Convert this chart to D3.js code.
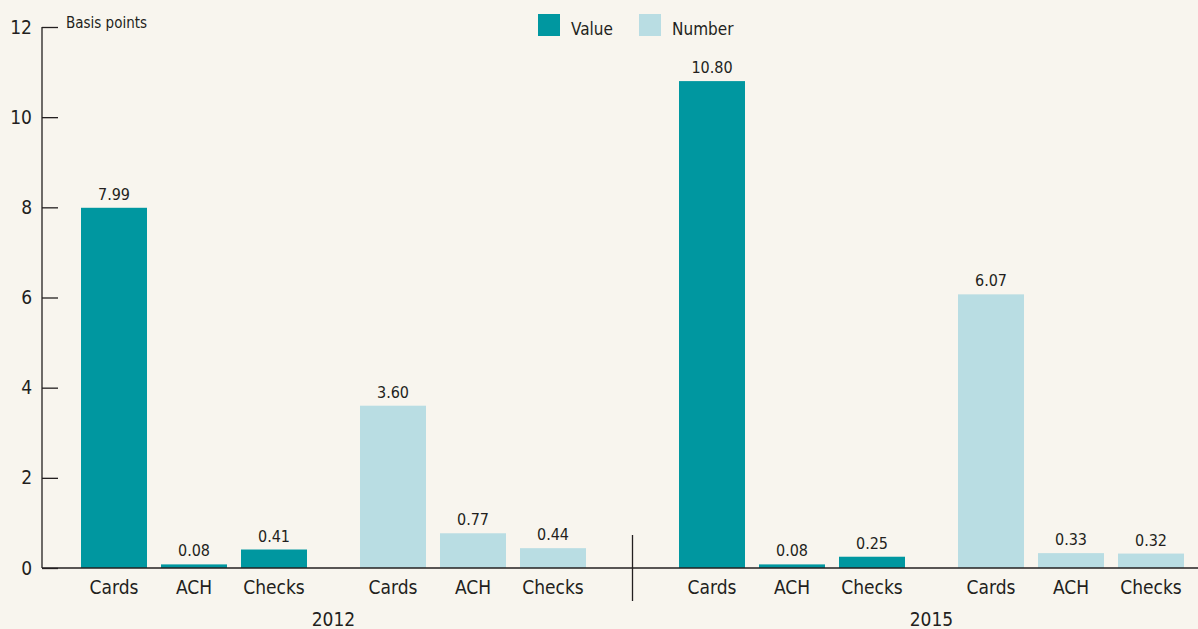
<!DOCTYPE html>
<html>
<head>
<meta charset="utf-8">
<script src="https://cdn.jsdelivr.net/npm/d3@7"></script>
<style>
  body { margin: 0; background: #f8f5ee; }
  svg { display: block; font-family: "Liberation Sans Narrow", "DejaVu Sans Condensed", sans-serif; fill: #231f20; }
</style>
</head>
<body>
<svg id="chart" width="1198" height="629"></svg>
<script>
const years = ["2012", "2015"];
const groups = ["Value", "Number"];
const categories = ["Cards", "ACH", "Checks"];
// values[year][group][category]
const values2012Value = [7.99, 0.08, 0.41];
const values2012Number = [3.60, 0.77, 0.44];
const values2015Value = [10.80, 0.08, 0.25];
const values2015Number = [6.07, 0.33, 0.32];
const yTicks = [0, 2, 4, 6, 8, 10, 12];

const colors = { Value: "#0097a0", Number: "#b9dde3" };

const svg = d3.select("#chart");
const ink = "#231f20";

const bars = [];
[[values2012Value, values2012Number], [values2015Value, values2015Number]].forEach((pair, yi) => {
  pair.forEach((vals, gi) => {
    vals.forEach((v, ci) => {
      bars.push({ year: years[yi], group: groups[gi], cat: categories[ci], value: v });
    });
  });
});

const y = d3.scaleLinear().domain([0, 12]).range([568, 27]);
const xYear = d3.scaleBand().domain(years).range([51, 1247]);
const xGroup = d3.scaleBand().domain(groups).range([30, 588]);
const xCat = d3.scaleBand().domain(categories).range([0, 226]).paddingInner(0.175);

const xPos = d => xYear(d.year) + xGroup(d.group) + xCat(d.cat);

// bars
svg.append("g").selectAll("rect")
  .data(bars)
  .join("rect")
  .attr("x", xPos)
  .attr("y", d => y(d.value))
  .attr("width", xCat.bandwidth())
  .attr("height", d => y(0) - y(d.value))
  .attr("fill", d => colors[d.group]);

// value labels
svg.append("g").selectAll("text")
  .data(bars)
  .join("text")
  .attr("x", d => xPos(d) + xCat.bandwidth() / 2)
  .attr("y", d => y(d.value) - 8)
  .attr("text-anchor", "middle")
  .style("font-size", "16px")
  .text(d => d.value.toFixed(2));

// y axis
const yAxis = d3.axisRight(y).tickValues(yTicks).tickSize(16).tickFormat("");
const ga = svg.append("g").attr("transform", "translate(42,0)").call(yAxis);
ga.select(".domain").attr("d", `M0,${y(12)}V${y(0)}`).attr("stroke", ink).attr("stroke-width", 1.3);
ga.selectAll(".tick line").attr("stroke", ink).attr("stroke-width", 1.3);

svg.append("g").selectAll("text")
  .data(yTicks)
  .join("text")
  .attr("x", 32)
  .attr("y", d => y(d))
  .attr("dy", "0.35em")
  .attr("text-anchor", "end")
  .style("font-size", "19px")
  .text(d => d);

svg.append("text")
  .attr("x", 66).attr("y", 28)
  .style("font-size", "15px")
  .text("Basis points");

// baseline
svg.append("line")
  .attr("x1", 42).attr("x2", 1198)
  .attr("y1", y(0)).attr("y2", y(0))
  .attr("stroke", ink).attr("stroke-width", 1.3);

// separator between years
const lastBar = bars.filter(d => d.year === years[0]).pop();
const firstBar = bars.find(d => d.year === years[1]);
const sepX = (xPos(lastBar) + xCat.bandwidth() + xPos(firstBar)) / 2;
svg.append("line")
  .attr("x1", sepX).attr("x2", sepX)
  .attr("y1", 535).attr("y2", 601)
  .attr("stroke", ink).attr("stroke-width", 1.3);

// category labels
svg.append("g").selectAll("text")
  .data(bars)
  .join("text")
  .attr("x", d => xPos(d) + xCat.bandwidth() / 2)
  .attr("y", 594)
  .attr("text-anchor", "middle")
  .style("font-size", "19px")
  .text(d => d.cat);

// year labels
svg.append("g").selectAll("text")
  .data(years)
  .join("text")
  .attr("x", d => xYear(d) + xGroup(groups[0]) + (xGroup(groups[1]) - xGroup(groups[0]) + 226) / 2)
  .attr("y", 626)
  .attr("text-anchor", "middle")
  .style("font-size", "19px")
  .text(d => d);

// legend
const legend = svg.append("g").selectAll("g")
  .data(groups)
  .join("g")
  .attr("transform", (d, i) => `translate(${538 + i * 101},14)`);
legend.append("rect").attr("width", 22).attr("height", 22).attr("fill", d => colors[d]);
legend.append("text").attr("x", 33).attr("y", 21).style("font-size", "17px").text(d => d);
</script>
</body>
</html>
